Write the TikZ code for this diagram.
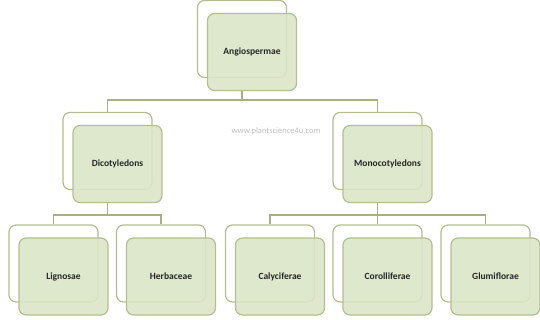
\documentclass[tikz,border=0pt]{standalone}
\usepackage{fontspec}
\setmainfont{Carlito}
\usepackage{tikz}
\definecolor{boxline}{RGB}{180,190,145}
\definecolor{boxfill}{RGB}{219,230,200}
\definecolor{wire}{RGB}{168,175,130}

\begin{document}
\begin{tikzpicture}[x=1pt,y=-1pt]
\tikzstyle{every node}=[font=\fontsize{9.5}{11}\selectfont\bfseries,text=black!85]
\tikzstyle{backbox}=[draw=boxline,line width=1.2pt,fill=white,rounded corners=7pt,minimum width=89pt,minimum height=77pt]
\tikzstyle{frontbox}=[backbox,fill=boxfill,fill opacity=0.9,text opacity=1]
\tikzstyle{wire}=[draw=wire,line width=1.3pt]
\useasboundingbox (0,0) rectangle (540,320);
\node[backbox](angB) at (242,39){};
\node[frontbox](ang) at ([shift={(10,13)}]angB){Angiospermae};
\node[backbox](dicB) at (107.5,151){};
\node[frontbox](dic) at ([shift={(10,13)}]dicB){Dicotyledons};
\node[backbox](monB) at (377.5,151){};
\node[frontbox](mon) at ([shift={(10,13)}]monB){Monocotyledons};
\node[backbox](ligB) at (53.5,263.5){};
\node[frontbox](lig) at ([shift={(10,13)}]ligB){Lignosae};
\node[backbox](herB) at (161,263.5){};
\node[frontbox](her) at ([shift={(10,13)}]herB){Herbaceae};
\node[backbox](calB) at (270,263.5){};
\node[frontbox](cal) at ([shift={(10,13)}]calB){Calyciferae};
\node[backbox](corB) at (377.5,263.5){};
\node[frontbox](cor) at ([shift={(10,13)}]corB){Corolliferae};
\node[backbox](gluB) at (485.5,263.5){};
\node[frontbox](glu) at ([shift={(10,13)}]gluB){Glumiflorae};
\node[font=\fontsize{8.5}{10}\selectfont,text=black!25](web) at (276,131){www.plantscience4u.com};
\coordinate(top) at (242,100);
\coordinate(left) at (107.5,215);
\coordinate(right) at (377.5,215);
\draw[wire](angB |- ang.south)--(top)-|(dicB.north);
\draw[wire](top)-|(monB.north);
\draw[wire](dicB |- dic.south)--(left)-|(ligB.north);
\draw[wire](left)-|(herB.north);
\draw[wire](monB |- mon.south)--(right)-|(calB.north);
\draw[wire](right)-|(gluB.north);
\draw[wire](right)--(corB.north);
\end{tikzpicture}
\end{document}
